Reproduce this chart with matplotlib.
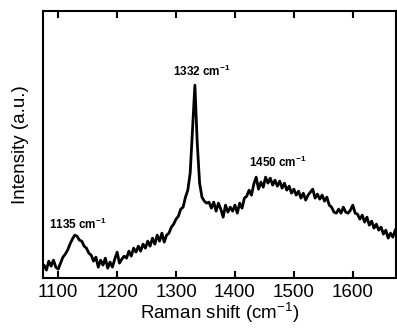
import numpy as np
import matplotlib.pyplot as plt

plt.rcParams['font.family'] = ['Liberation Sans', 'DejaVu Sans']
plt.rcParams['mathtext.fontset'] = 'custom'
plt.rcParams['mathtext.rm'] = 'Liberation Sans'
plt.rcParams['mathtext.bf'] = 'Liberation Sans:bold'

# Raman spectrum (shift in cm-1, intensity in arbitrary units)
shift = np.arange(1072, 1673, 4)
intensity = [
    8, 13, 8, 17, 12, 18, 11, 9, 15, 21, 24, 28, 34, 39, 43, 42, 38, 37, 32, 30,
    25, 23, 17, 21, 11, 18, 13, 20, 10, 16, 11, 19, 26, 15, 19, 22, 20, 27, 22, 30,
    26, 32, 27, 34, 30, 37, 32, 40, 34, 43, 37, 45, 36, 43, 45, 51, 54, 59, 62, 69,
    71, 81, 88, 105, 150, 193, 135, 95, 81, 77, 75, 76, 70, 76, 67, 75, 69, 61, 73, 66,
    71, 67, 73, 65, 75, 70, 80, 82, 88, 83, 94, 101, 89, 96, 91, 101, 95, 100, 93, 98,
    92, 97, 90, 95, 88, 92, 85, 89, 83, 87, 80, 85, 78, 83, 86, 89, 80, 84, 79, 83,
    77, 81, 73, 71, 66, 65, 69, 65, 71, 66, 65, 68, 73, 65, 64, 59, 63, 56, 61, 53,
    57, 50, 54, 48, 51, 44, 48, 40, 45, 41, 48,
]

peak_labels = ["1135 cm$^{\\mathbf{-1}}$", "1332 cm$^{\\mathbf{-1}}$", "1450 cm$^{\\mathbf{-1}}$"]
label_x = [1133, 1344, 1472]
label_y = [54, 207, 116]

fig = plt.figure(figsize=(3.97, 3.28), dpi=100)
ax = fig.add_axes([0.108, 0.152, 0.889, 0.814])

ax.plot(shift, intensity, color='black', lw=2.0)

for txt, x, y in zip(peak_labels, label_x, label_y):
    ax.text(x, y, txt, ha='center', va='center', fontsize=8.5, fontweight='bold')

ax.set_xlim(1074, 1673)
ax.set_ylim(0, 267)
ax.set_xticks([1100, 1200, 1300, 1400, 1500, 1600])
ax.set_yticks([])
ax.tick_params(axis='x', direction='in', top=True, length=5, width=1.5, labelsize=13.5, pad=4)
for s in ax.spines.values():
    s.set_linewidth(1.5)

ax.set_xlabel("Raman shift (cm$^{-1}$)", fontsize=13.5, labelpad=0)
ax.set_ylabel("Intensity (a.u.)", fontsize=13.5, labelpad=10)

fig.savefig("out.png", dpi=100)
